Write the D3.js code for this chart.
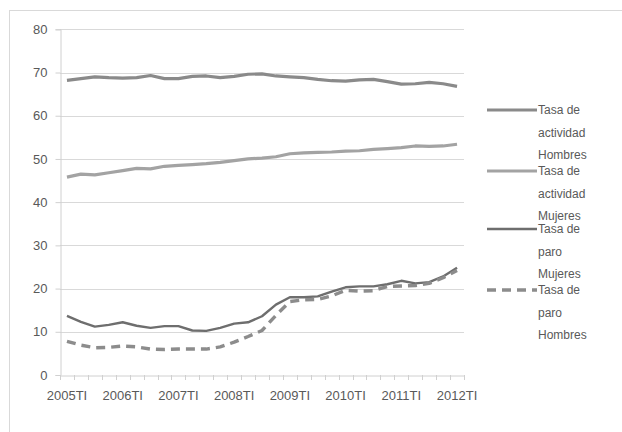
<!DOCTYPE html>
<html>
<head>
<meta charset="utf-8">
<script src="https://cdn.jsdelivr.net/npm/d3@7"></script>
<style>
  html, body { margin: 0; padding: 0; background: #fff; }
  svg text { font-family: "Liberation Sans", Arial, sans-serif; fill: #595959; }
</style>
</head>
<body>
<svg id="chart" width="622" height="432"></svg>
<script>
// Quarters 2005TI .. 2012TI
const years = [2005, 2006, 2007, 2008, 2009, 2010, 2011, 2012];
const quarterNames = ["TI", "TII", "TIII", "TIV"];
const categories = [];
years.forEach(y => quarterNames.forEach(q => { if (y < 2012 || q === "TI") categories.push(y + q); }));
const tickLabels = years.map(y => y + "TI");
const yTicks = [0, 10, 20, 30, 40, 50, 60, 70, 80];

const actividadHombres = [68.2, 68.6, 69.0, 68.8, 68.7, 68.8, 69.3, 68.6, 68.6, 69.1, 69.2, 68.8, 69.1, 69.6, 69.7, 69.2, 69.0, 68.8, 68.4, 68.1, 68.0, 68.3, 68.4, 67.9, 67.3, 67.4, 67.7, 67.4, 66.8];
const actividadMujeres = [45.8, 46.5, 46.3, 46.8, 47.3, 47.8, 47.7, 48.3, 48.5, 48.7, 48.9, 49.2, 49.6, 50.0, 50.2, 50.5, 51.2, 51.4, 51.5, 51.6, 51.8, 51.9, 52.2, 52.4, 52.6, 53.0, 52.9, 53.0, 53.4];
const paroMujeres = [13.7, 12.3, 11.2, 11.6, 12.2, 11.4, 10.9, 11.3, 11.3, 10.3, 10.2, 10.9, 11.9, 12.2, 13.6, 16.3, 18.0, 18.0, 18.2, 19.3, 20.3, 20.5, 20.5, 21.0, 21.8, 21.2, 21.5, 22.8, 24.8];
const paroHombres = [7.8, 6.9, 6.3, 6.4, 6.7, 6.5, 6.0, 5.9, 6.0, 6.0, 6.0, 6.5, 7.6, 8.9, 10.3, 13.8, 17.0, 17.4, 17.5, 18.3, 19.6, 19.4, 19.5, 20.5, 20.6, 20.7, 21.2, 22.5, 24.2];

const seriesNames = [
  ["Tasa de", "actividad", "Hombres"],
  ["Tasa de", "actividad", "Mujeres"],
  ["Tasa de", "paro", "Mujeres"],
  ["Tasa de", "paro", "Hombres"]
];

const series = [
  { name: seriesNames[0], values: actividadHombres, color: "#8a8a8a", width: 3.2, dash: null },
  { name: seriesNames[1], values: actividadMujeres, color: "#a3a3a3", width: 3.2, dash: null },
  { name: seriesNames[2], values: paroMujeres, color: "#6e6e6e", width: 2.4, dash: null },
  { name: seriesNames[3], values: paroHombres, color: "#8c8c8c", width: 3.4, dash: "9,6" }
];

const svg = d3.select("#chart");

// outer chart frame
svg.append("rect")
  .attr("x", 9.5).attr("y", 10.5)
  .attr("width", 640).attr("height", 450)
  .attr("fill", "none").attr("stroke", "#d9d9d9");

const plot = { left: 60, right: 464, top: 29.3, bottom: 375 };

const x = d3.scaleBand().domain(categories).range([plot.left, plot.right]).padding(0);
const y = d3.scaleLinear().domain([0, 80]).range([plot.bottom, plot.top]);

// horizontal gridlines
svg.append("g")
  .selectAll("line")
  .data(yTicks.filter(t => t > 0))
  .join("line")
  .attr("x1", plot.left).attr("x2", plot.right)
  .attr("y1", d => Math.round(y(d)) + 0.5).attr("y2", d => Math.round(y(d)) + 0.5)
  .attr("stroke", "#d9d9d9").attr("stroke-width", 1);

// y axis
const yAxis = svg.append("g")
  .attr("transform", `translate(${plot.left + 0.5},0)`)
  .call(d3.axisLeft(y).tickValues(yTicks).tickSize(5).tickPadding(8));
yAxis.select(".domain").attr("stroke", "#d0d0d0");
yAxis.selectAll(".tick line").attr("stroke", "#d0d0d0");
yAxis.selectAll("text").attr("font-size", 13).attr("fill", "#595959")
  .attr("font-family", "Liberation Sans, Arial, sans-serif");

// x axis: labels on each first quarter, tick marks between categories
const xAxis = svg.append("g")
  .attr("transform", `translate(0,${plot.bottom + 0.5})`)
  .call(d3.axisBottom(x).tickValues(tickLabels).tickSize(0).tickPadding(15));
xAxis.select(".domain").attr("stroke", "#d0d0d0");
xAxis.selectAll("text").attr("font-size", 13).attr("fill", "#595959")
  .attr("font-family", "Liberation Sans, Arial, sans-serif");

const boundaries = categories.map(c => x(c)).concat([x.range()[1]]);
svg.append("g")
  .selectAll("line")
  .data(boundaries)
  .join("line")
  .attr("x1", d => Math.round(d) + 0.5).attr("x2", d => Math.round(d) + 0.5)
  .attr("y1", plot.bottom).attr("y2", plot.bottom + 5)
  .attr("stroke", "#d0d0d0");

// series lines
const line = d3.line()
  .x((d, i) => x(categories[i]) + x.bandwidth() / 2)
  .y(d => y(d));

svg.append("g")
  .selectAll("path")
  .data(series)
  .join("path")
  .attr("d", s => line(s.values))
  .attr("fill", "none")
  .attr("stroke", s => s.color)
  .attr("stroke-width", s => s.width)
  .attr("stroke-dasharray", s => s.dash)
  .attr("stroke-linejoin", "round");

// legend
const legendTop = [110, 171, 229, 290];
const legend = svg.append("g");
series.forEach((s, i) => {
  const g = legend.append("g").attr("transform", `translate(487,${legendTop[i]})`);
  g.append("line")
    .attr("x1", 0).attr("x2", 50).attr("y1", 0).attr("y2", 0)
    .attr("stroke", s.color).attr("stroke-width", s.width)
    .attr("stroke-dasharray", s.dash);
  s.name.forEach((t, j) => {
    g.append("text")
      .attr("x", 51).attr("y", j * 22.5)
      .attr("dy", "0.35em")
      .attr("font-size", 12)
      .text(t);
  });
});
</script>
</body>
</html>
